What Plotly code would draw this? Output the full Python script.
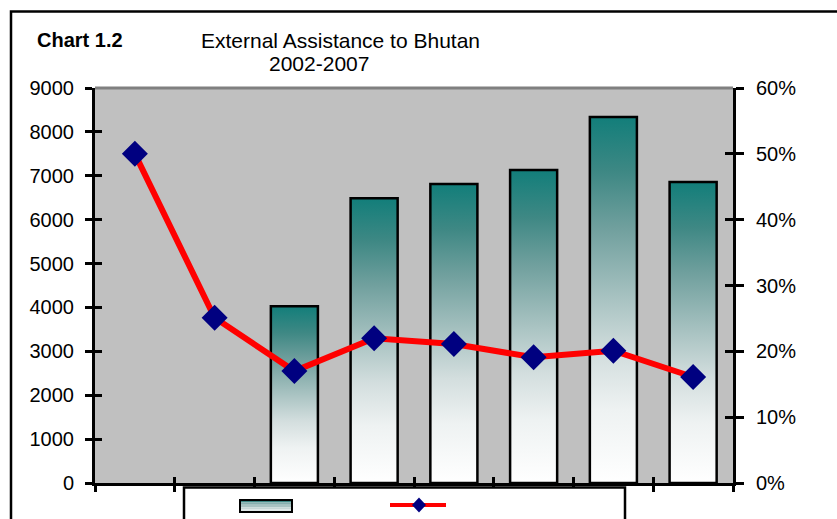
import plotly.graph_objects as go

# ---- data ----
categories = ["2000", "2001", "2002", "2003", "2004", "2005", "2006", "2007"]
assistance = [None, None, 4030, 6490, 6810, 7130, 8340, 6860]   # left axis
share = [0.50, 0.251, 0.170, 0.220, 0.211, 0.191, 0.201, 0.161]  # right axis (%)
left_ticks = [0, 1000, 2000, 3000, 4000, 5000, 6000, 7000, 8000, 9000]
right_ticks = [0, 0.1, 0.2, 0.3, 0.4, 0.5, 0.6]

FONT = "Liberation Sans, Arial, sans-serif"
TEAL_SCALE = [[0.0, "#ffffff"], [0.2, "#eef2f2"], [0.35, "#d3dede"], [0.5, "#a9c3c2"],
              [0.7, "#6f9f9d"], [0.85, "#3e8884"], [1.0, "#127e7a"]]
BAR_W = 0.59

W, H = 837, 519
L, R, T, B = 95, 104, 88, 36
PW, PH = W - L - R, H - T - B


def px(x):
    return (x - L) / PW


def py(y):
    return (H - B - y) / PH


fig = go.Figure()

positions = list(range(1, len(categories) + 1))

# bars with vertical gradient (one filled polygon per bar, built from data)
for pos, v in zip(positions, assistance):
    if v is None:
        continue
    xs = [pos - BAR_W / 2, pos - BAR_W / 2, pos + BAR_W / 2, pos + BAR_W / 2, pos - BAR_W / 2]
    ys = [0, v, v, 0, 0]
    fig.add_trace(go.Scatter(
        x=xs, y=ys, mode="lines", fill="toself",
        fillgradient=dict(type="vertical", colorscale=TEAL_SCALE),
        line=dict(color="black", width=2.5),
        showlegend=False, hoverinfo="skip", xaxis="x", yaxis="y"))

# line on secondary axis
fig.add_trace(go.Scatter(
    x=positions, y=share, mode="lines+markers",
    line=dict(color="#ff0000", width=6),
    marker=dict(symbol="diamond", size=20, color="#000080", line=dict(width=0)),
    showlegend=False, xaxis="x", yaxis="y2"))

# dummy traces so overlay axes (inside ticks) are drawn
fig.add_trace(go.Scatter(x=[None], y=[None], xaxis="x", yaxis="y3", showlegend=False, hoverinfo="skip"))
fig.add_trace(go.Scatter(x=[None], y=[None], xaxis="x", yaxis="y4", showlegend=False, hoverinfo="skip"))
fig.add_trace(go.Scatter(x=[None], y=[None], xaxis="x2", yaxis="y", showlegend=False, hoverinfo="skip"))

xr = [0.5, len(categories) + 0.5]
bounds = [i + 0.5 for i in range(len(categories) + 1)]
tickfont = dict(family=FONT, size=20, color="black")

common_ax = dict(showgrid=False, zeroline=False, tickcolor="black", tickwidth=3)

fig.update_layout(
    width=W, height=H,
    margin=dict(l=L, r=R, t=T, b=B, pad=0),
    paper_bgcolor="white", plot_bgcolor="#c0c0c0",
    font=dict(family=FONT, color="black"),
    showlegend=False,
    xaxis=dict(range=xr, tickmode="array", tickvals=bounds, showticklabels=False,
               ticks="outside", ticklen=6, showline=True, linecolor="black", linewidth=3,
               **common_ax),
    xaxis2=dict(range=xr, overlaying="x", anchor="y", side="bottom", tickmode="array",
                tickvals=bounds, showticklabels=False, ticks="inside", ticklen=6,
                showline=False, **common_ax),
    yaxis=dict(range=[0, 9000], tickmode="array", tickvals=left_ticks,
               ticktext=[str(t) for t in left_ticks], ticks="outside", ticklen=7,
               ticklabelstandoff=7,
               showline=True, linecolor="black", linewidth=3, tickfont=tickfont,
               **common_ax),
    yaxis3=dict(range=[0, 9000], overlaying="y", side="left", anchor="x", tickmode="array",
                tickvals=left_ticks, showticklabels=False, ticks="inside", ticklen=7,
                showline=False, **common_ax),
    yaxis2=dict(range=[0, 0.6], overlaying="y", side="right", anchor="x", tickmode="array",
                tickvals=right_ticks, tickformat=".0%", ticks="outside", ticklen=8,
                ticklabelstandoff=8,
                showline=True, linecolor="black", linewidth=3, tickfont=tickfont,
                **common_ax),
    yaxis4=dict(range=[0, 0.6], overlaying="y", side="right", anchor="x", tickmode="array",
                tickvals=right_ticks, showticklabels=False, ticks="inside", ticklen=8,
                showline=False, **common_ax),
)

# titles
fig.add_annotation(text="<b>Chart 1.2</b>", xref="paper", yref="paper", x=px(35), y=py(40),
                   xanchor="left", yanchor="middle", showarrow=False,
                   font=dict(family=FONT, size=20, color="black"))
fig.add_annotation(text="External Assistance to Bhutan", xref="paper", yref="paper",
                   x=px(340), y=py(40), xanchor="center", yanchor="middle", showarrow=False,
                   font=dict(family=FONT, size=21, color="black"))
fig.add_annotation(text="2002-2007", xref="paper", yref="paper", x=px(319), y=py(64),
                   xanchor="center", yanchor="middle", showarrow=False,
                   font=dict(family=FONT, size=21, color="black"))

shapes = []
# outer chart border
shapes.append(dict(type="rect", xref="paper", yref="paper", x0=px(11), x1=px(W + 30),
                   y0=py(11.5), y1=py(H + 30), line=dict(color="black", width=2.5),
                   fillcolor="rgba(0,0,0,0)", layer="below"))
# grey top edge of plot area
shapes.append(dict(type="line", xref="paper", yref="paper", x0=0, x1=1, y0=1, y1=1,
                   line=dict(color="#808080", width=3), layer="above"))
# legend box
shapes.append(dict(type="rect", xref="paper", yref="paper", x0=px(184), x1=px(625),
                   y0=py(487.5), y1=py(H + 30), line=dict(color="black", width=2.5),
                   fillcolor="white", layer="above"))
# legend bar swatch (stripes approximating the gradient)
stripe_cols = ["#3f8986", "#86aead", "#a9c3c2", "#c6d7d6", "#dde6e6"]
top, bot = 500.0, 512.0
step = (bot - top) / len(stripe_cols)
for i, c in enumerate(stripe_cols):
    shapes.append(dict(type="rect", xref="paper", yref="paper", x0=px(240), x1=px(292),
                       y0=py(top + i * step), y1=py(top + (i + 1) * step),
                       line=dict(width=0), fillcolor=c, layer="above"))
shapes.append(dict(type="rect", xref="paper", yref="paper", x0=px(240), x1=px(292),
                   y0=py(top), y1=py(bot), line=dict(color="black", width=2),
                   fillcolor="rgba(0,0,0,0)", layer="above"))
# legend line swatch
shapes.append(dict(type="line", xref="paper", yref="paper", x0=px(390), x1=px(446),
                   y0=py(505), y1=py(505), line=dict(color="#ff0000", width=4), layer="above"))
cx, cy = 419, 505
dpath = "M {} {} L {} {} L {} {} L {} {} Z".format(
    px(cx), py(cy - 7.5), px(cx + 7), py(cy), px(cx), py(cy + 7.5), px(cx - 7), py(cy))
shapes.append(dict(type="path", xref="paper", yref="paper", path=dpath,
                   fillcolor="#000080", line=dict(width=0), layer="above"))

fig.update_layout(shapes=shapes)

fig.write_html("out.html", config={"displayModeBar": False},
               post_script="document.body.style.margin='0';")
